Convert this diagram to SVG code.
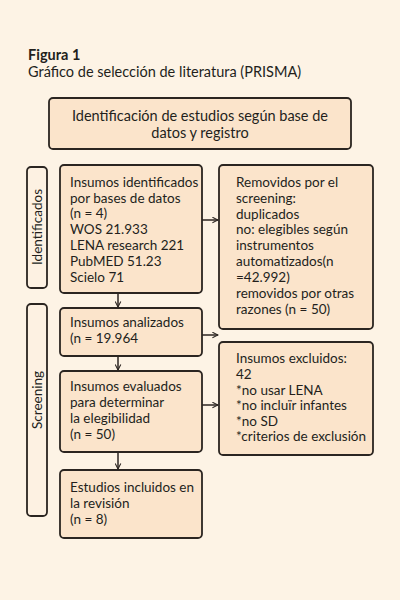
<svg xmlns="http://www.w3.org/2000/svg" width="400" height="600" viewBox="0 0 400 600">
<defs>
<style>
.bg{fill:#fdf3e5}
.box{fill:#fbe4cb;stroke:#2b2521;stroke-width:1.8}
.side{fill:#fdf1e2;stroke:#2b2521;stroke-width:1.8}
text{font-family:Lato,"Noto Sans",sans-serif;fill:#231f1c}
.t{font-size:13.5px}
.h{font-size:14.5px}
.c{stroke:#2b2521;stroke-width:1.5;fill:none}
</style>
<marker id="ah" viewBox="0 0 10 10" refX="9" refY="5" markerWidth="7" markerHeight="7" markerUnits="userSpaceOnUse" orient="auto">
<path d="M1,1 L9,5 L1,9" fill="none" stroke="#2b2521" stroke-width="1.5"/>
</marker>
</defs>
<rect class="bg" x="0" y="0" width="400" height="600"/>
<g id="title">
<text x="28" y="60" class="h" font-weight="bold">Figura 1</text>
<text x="28" y="77" class="h">Gráfico de selección de literatura (PRISMA)</text>
</g>
<g id="n_top">
<rect class="box" x="49" y="98" width="302" height="51" rx="4"/>
<text x="200" y="121" class="h" text-anchor="middle">Identificación de estudios según base de</text>
<text x="200" y="138" class="h" text-anchor="middle">datos y registro</text>
</g>
<g id="s_ident">
<rect class="side" x="27" y="167" width="20" height="121" rx="4"/>
<text transform="translate(42,227) rotate(-90)" class="t" text-anchor="middle">Identificados</text>
</g>
<g id="s_screen">
<rect class="side" x="27" y="304" width="20" height="212" rx="4"/>
<text transform="translate(42,400) rotate(-90)" class="t" text-anchor="middle">Screening</text>
</g>
<g id="n1">
<rect class="box" x="60" y="165" width="142" height="128" rx="4"/>
<text class="t" x="70" y="187">Insumos identificados</text>
<text class="t" x="70" y="203">por bases de datos</text>
<text class="t" x="70" y="218">(n = 4)</text>
<text class="t" x="70" y="234">WOS 21.933</text>
<text class="t" x="70" y="250">LENA research 221</text>
<text class="t" x="70" y="266">PubMED 51.23</text>
<text class="t" x="70" y="282">Scielo 71</text>
</g>
<g id="n2">
<rect class="box" x="60" y="308" width="142" height="48" rx="4"/>
<text class="t" x="70" y="327">Insumos analizados</text>
<text class="t" x="70" y="343">(n = 19.964</text>
</g>
<g id="n3">
<rect class="box" x="60" y="371" width="142" height="81" rx="4"/>
<text class="t" x="70" y="391">Insumos evaluados</text>
<text class="t" x="70" y="407">para determinar</text>
<text class="t" x="70" y="423">la elegibilidad</text>
<text class="t" x="70" y="439">(n = 50)</text>
</g>
<g id="n4">
<rect class="box" x="60" y="470" width="142" height="68" rx="4"/>
<text class="t" x="70" y="492">Estudios incluidos en</text>
<text class="t" x="70" y="508">la revisión</text>
<text class="t" x="70" y="524">(n = 8)</text>
</g>
<g id="r1">
<rect class="box" x="219" y="165" width="154" height="164" rx="4"/>
<text class="t" x="236" y="187">Removidos por el</text>
<text class="t" x="236" y="203">screening:</text>
<text class="t" x="236" y="219">duplicados</text>
<text class="t" x="236" y="234">no: elegibles según</text>
<text class="t" x="236" y="250">instrumentos</text>
<text class="t" x="236" y="266">automatizados(n</text>
<text class="t" x="236" y="282">=42.992)</text>
<text class="t" x="236" y="298">removidos por otras</text>
<text class="t" x="236" y="314">razones (n = 50)</text>
</g>
<g id="r2">
<rect class="box" x="219" y="342" width="154" height="113" rx="4"/>
<text class="t" x="236" y="363">Insumos excluidos:</text>
<text class="t" x="236" y="379">42</text>
<text class="t" x="236" y="395">*no usar LENA</text>
<text class="t" x="236" y="410">*no incluïr infantes</text>
<text class="t" x="236" y="426">*no SD</text>
<text class="t" x="236" y="441">*criterios de exclusión</text>
</g>
<g id="connectors">
<path class="c" d="M202,220 H218" marker-end="url(#ah)"/>
<path class="c" d="M202,335 H218" marker-end="url(#ah)"/>
<path class="c" d="M202,405 H218" marker-end="url(#ah)"/>
<path class="c" d="M118,293 V307" marker-end="url(#ah)"/>
<path class="c" d="M118,356 V370" marker-end="url(#ah)"/>
<path class="c" d="M118,452 V469" marker-end="url(#ah)"/>
</g>
</svg>
